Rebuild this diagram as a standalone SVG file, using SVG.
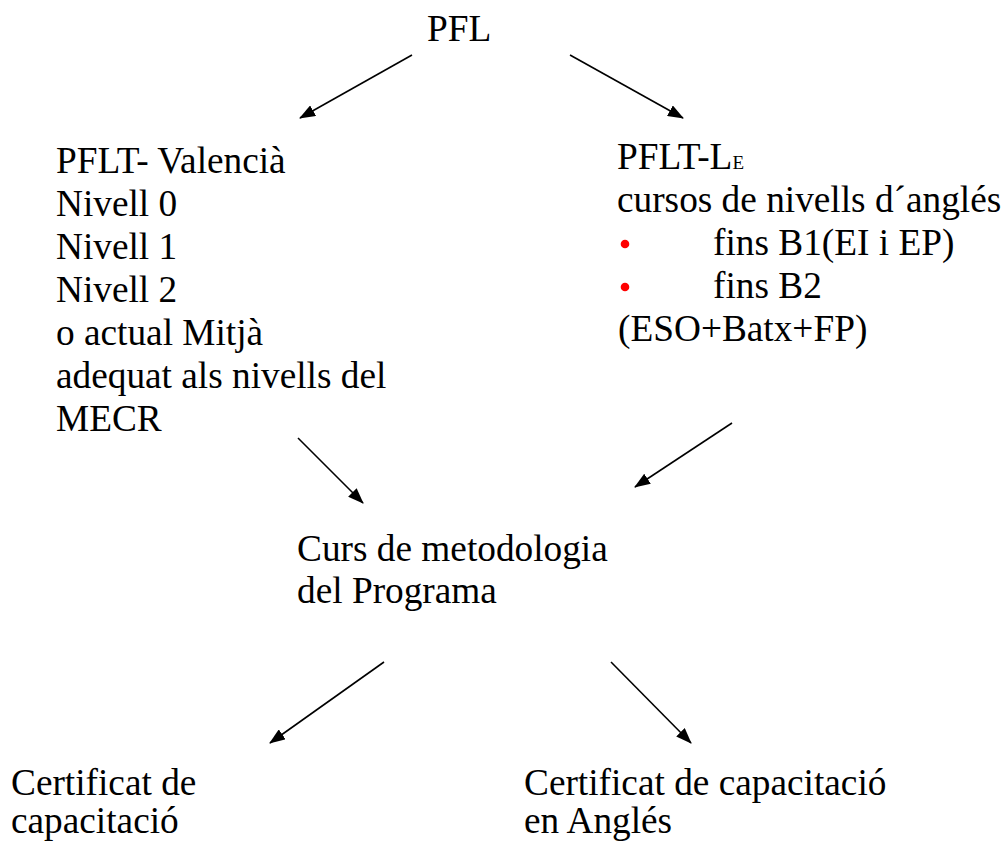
<svg xmlns="http://www.w3.org/2000/svg" width="1006" height="841" viewBox="0 0 1006 841">
<defs>
<style>
text{font-family:"Liberation Serif","Times New Roman",serif;font-size:37.3px;fill:#000}
.c{stroke:#000;stroke-width:1.6;fill:none;marker-end:url(#ah)}
.b{fill:#ff0000}
</style>
<marker id="ah" viewBox="0 0 16 12" refX="15" refY="6" markerWidth="16" markerHeight="12" markerUnits="userSpaceOnUse" orient="auto">
<path d="M0,0 L16,6 L0,12 z" fill="#000"/>
</marker>
</defs>
<rect width="1006" height="841" fill="#fff"/>
<g id="connectors">
<line class="c" x1="412" y1="55" x2="300" y2="118"/>
<line class="c" x1="570" y1="55" x2="683" y2="118"/>
<line class="c" x1="298" y1="438" x2="363" y2="503"/>
<line class="c" x1="732" y1="423" x2="635" y2="487"/>
<line class="c" x1="384" y1="662" x2="270" y2="743"/>
<line class="c" x1="611" y1="662" x2="691" y2="743"/>
</g>
<g id="pfl" font-family="Liberation Serif, serif"><text x="427" y="41">PFL</text></g>
<g id="pflt-valencia" font-family="Liberation Serif, serif">
<text x="56" y="173">PFLT- Valencià</text>
<text x="56" y="216">Nivell 0</text>
<text x="56" y="259">Nivell 1</text>
<text x="56" y="302">Nivell 2</text>
<text x="56" y="345">o actual Mitjà</text>
<text x="56" y="388">adequat als nivells del</text>
<text x="56" y="431">MECR</text>
</g>
<g id="pflt-le" font-family="Liberation Serif, serif">
<text x="617" y="169">PFLT-L<tspan font-size="19">E</tspan></text>
<text x="617" y="212">cursos de nivells d´anglés</text>
<circle class="b" cx="625" cy="244" r="4.3"/>
<text x="713" y="255">fins B1(EI i EP)</text>
<circle class="b" cx="625" cy="287" r="4.3"/>
<text x="713" y="298">fins B2</text>
<text x="618" y="341">(ESO+Batx+FP)</text>
</g>
<g id="curs" font-family="Liberation Serif, serif">
<text x="297" y="561">Curs de metodologia</text>
<text x="297" y="603">del Programa</text>
</g>
<g id="cert-val" font-family="Liberation Serif, serif">
<text x="11" y="795">Certificat de</text>
<text x="11" y="833">capacitació</text>
</g>
<g id="cert-en" font-family="Liberation Serif, serif">
<text x="524" y="795">Certificat de capacitació</text>
<text x="524" y="833">en Anglés</text>
</g>
</svg>
